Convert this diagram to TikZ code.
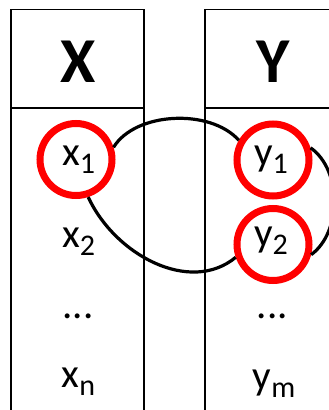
\documentclass[tikz,border=0pt]{standalone}
\usepackage{fontspec}
\setmainfont{Carlito}
\newcommand{\mysub}[1]{\raisebox{-8.5pt}{\fontsize{30}{30}\selectfont #1}}
\begin{document}
\begin{tikzpicture}[x=1pt,y=-1pt,
  boxline/.style={line width=1.5pt, black},
  ring/.style={circle, draw=red, line width=7pt, minimum size=72pt, inner sep=0pt},
  link/.style={line width=3.2pt, black},
  entry/.style={font=\fontsize{41}{41}\selectfont, inner sep=0pt, anchor=base},
  head/.style={font=\fontsize{64}{64}\selectfont\bfseries, inner sep=0pt}]
\useasboundingbox (0,0) rectangle (329,410);
\clip (0,0) rectangle (329,410);
% columns
\draw[boxline] (11,9.5) rectangle (144,430);
\draw[boxline] (11,108) -- (144,108);
\draw[boxline] (205,9.5) rectangle (341,430);
\draw[boxline] (205,108) -- (341,108);
% headers
\node[head] (hx) at (78.5,61.5) {X};
\node[head] (hy) at (273.5,61.5) {Y};
% entries
\node[entry] (x1) at (78.5,165) {x\mysub{1}};
\node[entry] (x2) at (78.5,247) {x\mysub{2}};
\node[entry] (xd) at (78,318) {...};
\node[entry] (xn) at (78.5,387) {x\mysub{n}};
\node[entry] (y1) at (271,165) {y\mysub{1}};
\node[entry] (y2) at (271,246) {y\mysub{2}};
\node[entry] (yd) at (272.5,318) {...};
\node[entry] (ym) at (274,389) {y\mysub{m}};
% rings
\node[ring] (c1) at (76,159.5) {};
\node[ring] (c2) at (273,160) {};
\node[ring] (c3) at (273,244.5) {};
% links
\draw[link] (c1.18) .. controls (135,112) and (210,108) .. (c2.150);
\draw[link] (c1.-72) .. controls (115,255) and (190,295) .. (c3.199);
\draw[link] (c2.18) .. controls (342,170) and (342,232) .. (c3.-15);
\end{tikzpicture}
\end{document}
